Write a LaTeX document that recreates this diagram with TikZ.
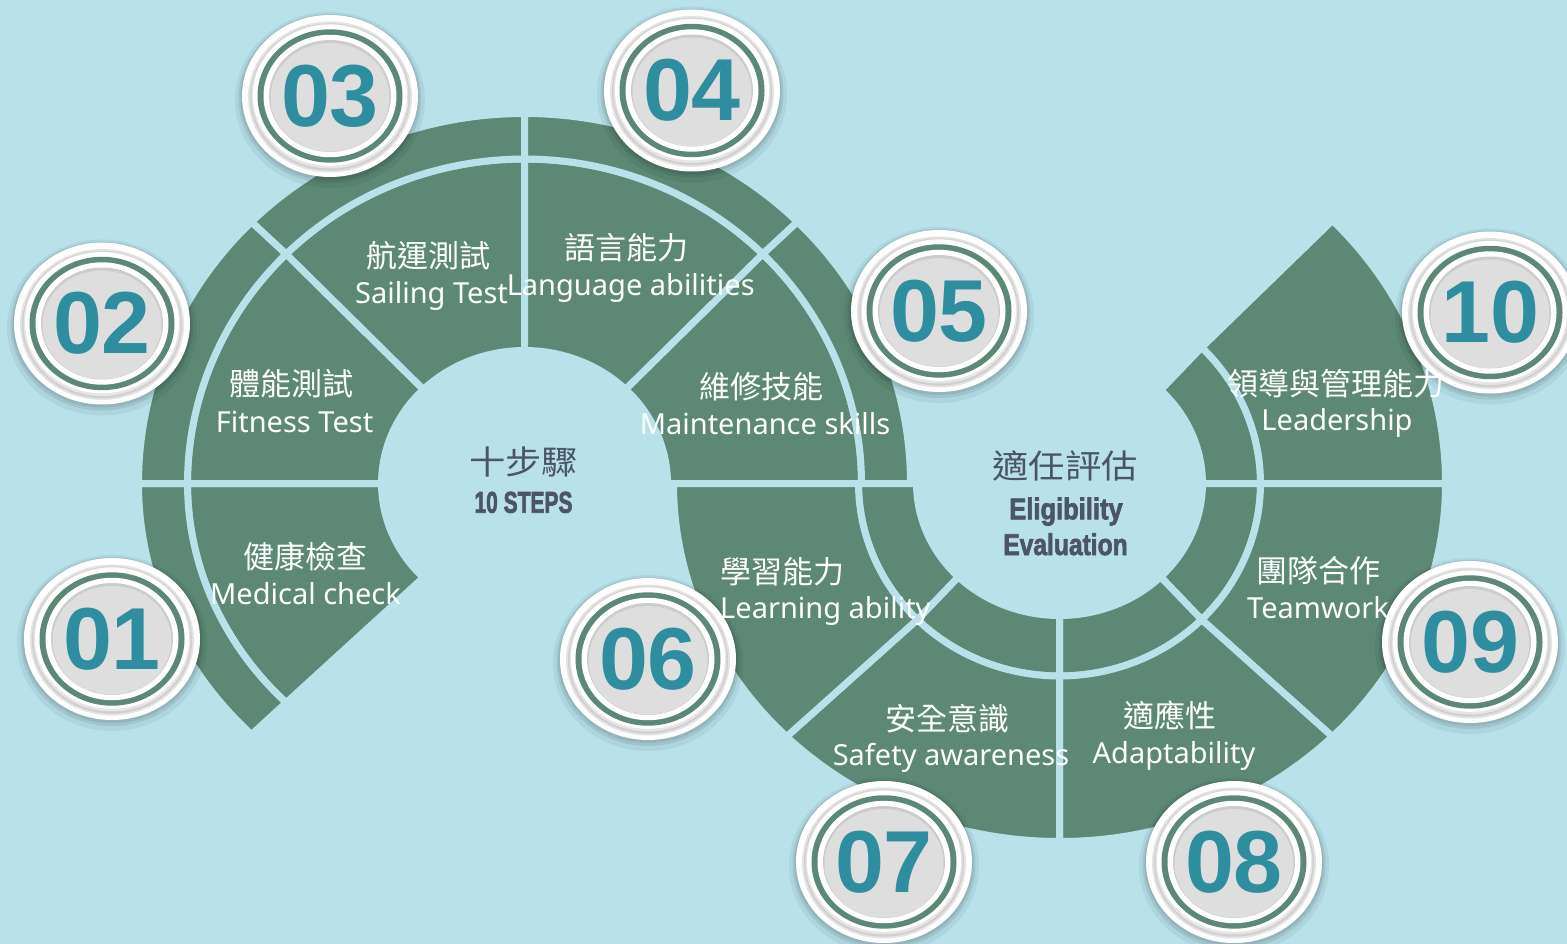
\documentclass[tikz,border=0pt]{standalone}
\usepackage{fontspec}
\usepackage{graphicx}
\usetikzlibrary{calc}
\newfontfamily\cjk{Noto Sans CJK TC}
\newfontfamily\latf{Noto Sans}
\newfontfamily\numf{Liberation Sans}
\newfontfamily\ctrf{Liberation Sans}[BoldFeatures={FakeBold=2.5}]
\definecolor{bgc}{HTML}{B8E1E9}
\definecolor{gr}{HTML}{5C8875}
\definecolor{dk}{HTML}{4B5567}
\definecolor{numc}{HTML}{2F8DA0}
\definecolor{ig}{HTML}{DEDEDE}
\tikzset{
  piece/.style={fill=gr, draw=bgc, line width=7pt, line join=round},
  zh/.style={text=white, font=\cjk\fontsize{31}{31}\selectfont, anchor=base, inner sep=0pt},
  en/.style={text=white, font=\latf\fontsize{29}{29}\selectfont, anchor=base, inner sep=0pt},
  ctrzh/.style={text=dk, font=\cjk\fontsize{33}{33}\selectfont, anchor=base, inner sep=0pt},
  ctren/.style={text=dk, font=\ctrf\bfseries\fontsize{30}{30}\selectfont, anchor=base, inner sep=0pt},
  num/.style={text=numc, font=\numf\bfseries\fontsize{88}{88}\selectfont, inner sep=0pt},
}
% cx, cy, t1, t2, rx inner, ry inner, rx outer, ry outer
\newcommand\annseg[8]{%
  \path[piece] ($(#1,#2)+(#3:#5 and #6)$)
    arc[start angle=#3, end angle=#4, x radius=#5, y radius=#6]
    -- ($(#1,#2)+(#4:#7 and #8)$)
    arc[start angle=#4, end angle=#3, x radius=#7, y radius=#8] -- cycle;}
% name, x, y, number
\newcommand\badge[4]{%
  \begin{scope}[shift={(#2,#3)}]
    \fill[black, opacity=0.05] (0,-4) ellipse [x radius=95, y radius=88];
    \fill[black, opacity=0.08] (0,-2.5) ellipse [x radius=91.5, y radius=84.5];
    \fill[black, opacity=0.08] (0,-1.5) ellipse [x radius=89.5, y radius=82.5];
    \fill[white] (0,0) ellipse [x radius=88, y radius=81];
    \fill[gray!22] (0,-1) ellipse [x radius=82, y radius=75.5];
    \fill[gray!38] (0,-1) ellipse [x radius=80, y radius=73.6];
    \fill[gray!20] (0,-0.3) ellipse [x radius=78.5, y radius=72.2];
    \fill[white] (0,0.8) ellipse [x radius=77, y radius=70.6];
    \fill[gr] (0,0) ellipse [x radius=72.5, y radius=66.7];
    \fill[white] (0,0) ellipse [x radius=66.5, y radius=61.2];
    \fill[gray!40] (0,0) ellipse [x radius=61, y radius=56];
    \fill[ig] (0,-1.4) ellipse [x radius=59.5, y radius=54.3];
    \node[num] (#1) at (0,0) {#4};
  \end{scope}}
\begin{document}
\begin{tikzpicture}[x=1pt, y=1pt]
\path[fill=bgc] (0,0) rectangle (1567,-944);
\useasboundingbox (0,0) rectangle (1567,-944);

% ---- left structure: inner sectors
\annseg{524.5}{-483.5}{180}{225}{143}{133}{337}{310}
\annseg{524.5}{-483.5}{135}{180}{143}{133}{337}{324.5}
\annseg{524.5}{-483.5}{90}{135}{143}{133}{337}{324.5}
\annseg{524.5}{-483.5}{45}{90}{143}{133}{337}{324.5}
\annseg{524.5}{-483.5}{0}{45}{143}{133}{337}{324.5}
% ---- left structure: outer band
\annseg{524.5}{-483.5}{180}{225}{337}{310}{386}{355}
\annseg{524.5}{-483.5}{135}{180}{337}{324.5}{386}{370}
\annseg{524.5}{-483.5}{90}{135}{337}{324.5}{386}{370}
\annseg{524.5}{-483.5}{45}{90}{337}{324.5}{386}{370}
\annseg{524.5}{-483.5}{0}{45}{337}{324.5}{386}{370}

% ---- right structure: inner band
\annseg{1059.5}{-483.5}{0}{45}{143}{132}{201}{192.5}
\annseg{1059.5}{-483.5}{-45}{0}{143}{132}{201}{192.5}
\annseg{1059.5}{-483.5}{-90}{-45}{143}{132}{201}{192.5}
\annseg{1059.5}{-483.5}{-135}{-90}{143}{132}{201}{192.5}
\annseg{1059.5}{-483.5}{-180}{-135}{143}{132}{201}{192.5}
% ---- right structure: outer sectors
\annseg{1059.5}{-483.5}{0}{45}{201}{192.5}{386}{372}
\annseg{1059.5}{-483.5}{-45}{0}{201}{192.5}{386}{358}
\annseg{1059.5}{-483.5}{-90}{-45}{201}{192.5}{386}{358}
\annseg{1059.5}{-483.5}{-135}{-90}{201}{192.5}{386}{358}
\annseg{1059.5}{-483.5}{-180}{-135}{201}{192.5}{386}{358}

% ---- badges
\badge{b01}{112}{-639}{01}
\badge{b02}{102}{-323.5}{02}
\badge{b03}{330}{-96}{03}
\badge{b04}{692}{-90.5}{04}
\badge{b05}{939}{-311}{05}
\badge{b06}{648}{-659}{06}
\badge{b07}{884}{-862}{07}
\badge{b08}{1234}{-862}{08}
\badge{b09}{1470}{-642}{09}
\badge{b10}{1490}{-312.5}{10}

% ---- centre texts
\node[ctrzh] (c1zh) at (523.5,-474) {\scalebox{1.1}[1]{十步驟}};
\node[ctren] (c1en) at (523.5,-512.7) {\scalebox{0.70}[1]{10 STEPS}};
\node[ctrzh] (c2zh) at (1065,-478) {\scalebox{1.1}[1]{適任評估}};
\node[ctren] (c2en) at (1066,-519.3) {\scalebox{0.85}[1]{Eligibility}};
\node[ctren] (c2en2) at (1065.5,-555) {\scalebox{0.82}[1]{Evaluation}};

% ---- labels
\node[zh] (t1zh) at (428,-267.5) {航運測試};
\node[en] (t1en) at (431.5,-303.3) {Sailing Test};
\node[zh] (t2zh) at (626,-259.5) {語言能力};
\node[en] (t2en) at (630.7,-295) {Language abilities};
\node[zh] (t3zh) at (291,-395.5) {體能測試};
\node[en] (t3en) at (294.5,-432.7) {Fitness Test};
\node[zh] (t4zh) at (305.4,-568.5) {健康檢查};
\node[en] (t4en) at (305.5,-604) {Medical check};
\node[zh] (t5zh) at (761.4,-398.5) {維修技能};
\node[en] (t5en) at (765,-434) {Maintenance skills};
\node[zh, anchor=base west] (t6zh) at (720,-583) {學習能力};
\node[en, anchor=base west] (t6en) at (720,-618.7) {Learning ability};
\node[zh] (t7zh) at (947.5,-730.5) {安全意識};
\node[en] (t7en) at (951,-765) {Safety awareness};
\node[zh] (t8zh) at (1170,-727.5) {適應性};
\node[en] (t8en) at (1174,-763) {Adaptability};
\node[zh] (t9zh) at (1318,-582.5) {團隊合作};
\node[en] (t9en) at (1318,-618) {Teamwork};
\node[zh] (t10zh) at (1335.5,-395) {領導與管理能力};
\node[en] (t10en) at (1337,-430) {Leadership};
\end{tikzpicture}
\end{document}
